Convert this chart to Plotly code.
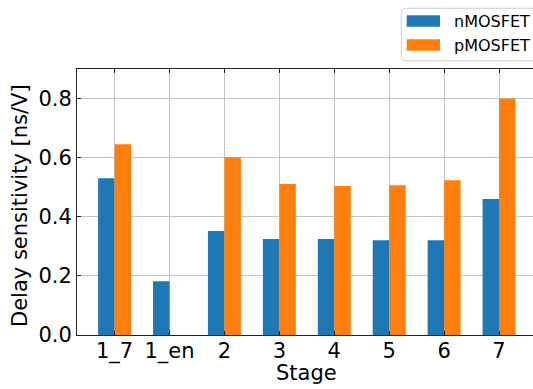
import plotly.graph_objects as go

# Stage labels and measured delay sensitivities [ns/V]
stages = ["1_7", "1_en", "2", "3", "4", "5", "6", "7"]
nmos = [0.53, 0.182, 0.352, 0.325, 0.325, 0.321, 0.321, 0.46]
pmos = [0.645, 0.0, 0.601, 0.511, 0.504, 0.507, 0.524, 0.80]
y_ticks = [0.0, 0.2, 0.4, 0.6, 0.8]

W, H = 533, 389
ML, MR, MT, MB = 77, 0, 69, 54
PW, PH = W - ML - MR, H - MT - MB


def px(x):
    return (x - ML) / PW


def py(y):
    return (H - MB - y) / PH


BLUE = "#1f77b4"
ORANGE = "#ff7f0e"
FONT = "DejaVu Sans"
FS = 21

fig = go.Figure()
fig.add_trace(go.Bar(name="nMOSFET", x=stages, y=nmos, marker=dict(color=BLUE, line=dict(width=0))))
fig.add_trace(go.Bar(name="pMOSFET", x=stages, y=pmos, marker=dict(color=ORANGE, line=dict(width=0))))

fig.update_layout(
    width=W,
    height=H,
    margin=dict(l=ML, r=MR, t=MT, b=MB, pad=0),
    barmode="group",
    bargap=0.4,
    bargroupgap=0,
    showlegend=False,
    plot_bgcolor="white",
    paper_bgcolor="white",
    font=dict(family=FONT, size=FS, color="black"),
)

fig.update_xaxes(
    type="category",
    range=[-0.684, 7.618],
    showgrid=True,
    gridcolor="#c4c4c4",
    gridwidth=1,
    showline=True,
    linecolor="#222222",
    linewidth=1,
    mirror="ticks",
    ticks="inside",
    ticklen=4,
    tickwidth=1,
    tickcolor="#222222",
    tickfont=dict(family=FONT, size=FS, color="black"),
    ticklabelstandoff=-3,
    zeroline=False,
)
fig.update_yaxes(
    range=[0, 0.9],
    tickvals=y_ticks,
    ticktext=[f"{v:.1f}" for v in y_ticks],
    showgrid=True,
    gridcolor="#c4c4c4",
    gridwidth=1,
    showline=True,
    linecolor="#222222",
    linewidth=1,
    mirror=False,
    ticks="inside",
    ticklen=4,
    tickwidth=1,
    tickcolor="#222222",
    tickfont=dict(family=FONT, size=FS, color="black"),
    zeroline=False,
)

# Axis titles
fig.add_annotation(
    text="Stage", xref="paper", yref="paper", x=px(306.8), y=py(373),
    showarrow=False, xanchor="center", yanchor="middle",
    font=dict(family=FONT, size=FS, color="black"),
)
fig.add_annotation(
    text="Delay sensitivity [ns/V]", xref="paper", yref="paper", x=px(20), y=py(206),
    showarrow=False, xanchor="center", yanchor="middle", textangle=-90,
    font=dict(family=FONT, size=FS, color="black"),
)

# Legend box with rounded corners
x0, x1, y0, y1, r = px(401.3), px(545), py(8.3), py(60.7), 4
rx, ry = r / PW, r / PH
path = (
    f"M {x0 + rx},{y0} L {x1 - rx},{y0} Q {x1},{y0} {x1},{y0 - ry} "
    f"L {x1},{y1 + ry} Q {x1},{y1} {x1 - rx},{y1} L {x0 + rx},{y1} "
    f"Q {x0},{y1} {x0},{y1 + ry} L {x0},{y0 - ry} Q {x0},{y0} {x0 + rx},{y0} Z"
)
fig.add_shape(type="path", path=path, xref="paper", yref="paper",
              fillcolor="rgba(255,255,255,0.8)", line=dict(color="#d0d0d0", width=1))

for name, color, yc in [("nMOSFET", BLUE, 21.0), ("pMOSFET", ORANGE, 45.0)]:
    fig.add_shape(type="rect", xref="paper", yref="paper",
                  x0=px(406.7), x1=px(440), y0=py(yc - 5.7), y1=py(yc + 5.7),
                  fillcolor=color, line=dict(width=0))
    fig.add_annotation(
        text=name, xref="paper", yref="paper", x=px(452), y=py(yc),
        showarrow=False, xanchor="left", yanchor="middle",
        font=dict(family=FONT, size=16, color="black"),
    )

fig.write_html("out.html")
